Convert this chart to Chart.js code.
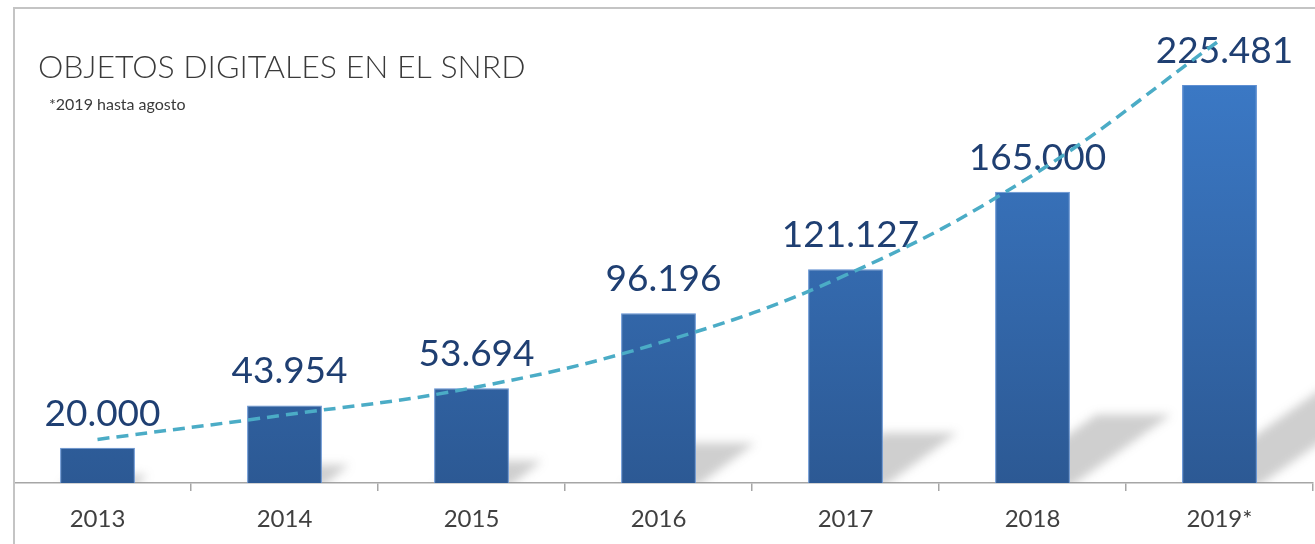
<!DOCTYPE html>
<html>
<head>
<meta charset="utf-8">
<script src="https://cdn.jsdelivr.net/npm/chart.js@4/dist/chart.umd.min.js"></script>
<style>
  html, body { margin: 0; padding: 0; background: #ffffff; }
  #wrap { width: 1315px; height: 544px; position: relative; }
  canvas { display: block; }
</style>
</head>
<body>
<div id="wrap"><canvas id="c" width="1315" height="544"></canvas></div>
<script>
const categories = ['2013', '2014', '2015', '2016', '2017', '2018', '2019*'];
const objetos = [20000, 43954, 53694, 96196, 121127, 165000, 225481];
const trend = [24700, 38500, 53800, 79200, 117700, 174300, 250700];
const valueLabels = ['20.000', '43.954', '53.694', '96.196', '121.127', '165.000', '225.481'];
const titleText = 'OBJETOS DIGITALES EN EL SNRD';
const noteText = '*2019 hasta agosto';

const BAR_INDEX = 1;

const decor = {
  id: 'decor',
  beforeDatasetsDraw(chart) {
    const ctx = chart.ctx;
    const meta = chart.getDatasetMeta(BAR_INDEX);
    const base = chart.scales.y.getPixelForValue(0);
    // soft projected shadows behind the bars
    ctx.save();
    ctx.beginPath();
    ctx.rect(0, 0, chart.width, base);
    ctx.clip();
    const OFF = 3000;
    ctx.shadowColor = 'rgba(140,140,140,0.42)';
    ctx.shadowBlur = 10;
    ctx.shadowOffsetX = OFF;
    ctx.shadowOffsetY = 0;
    ctx.fillStyle = '#000';
    meta.data.forEach(bar => {
      const h = base - bar.y;
      const sh = h * 0.235;
      const dx = sh * 1.48;
      const l = bar.x - bar.width / 2, r = bar.x + bar.width / 2;
      ctx.beginPath();
      ctx.moveTo(l - OFF, base + 4);
      ctx.lineTo(r - OFF, base + 4);
      ctx.lineTo(r + dx - OFF, base - sh);
      ctx.lineTo(l + dx - OFF, base - sh);
      ctx.closePath();
      ctx.fill();
    });
    ctx.restore();
    // value labels
    ctx.save();
    ctx.font = '37px Lato';
    ctx.fillStyle = '#1f3f72';
    ctx.textAlign = 'center';
    ctx.textBaseline = 'middle';
    meta.data.forEach((bar, i) => {
      ctx.fillText(valueLabels[i], bar.x + 5, bar.y - 34);
    });
    ctx.restore();
  },
  afterDraw(chart) {
    const ctx = chart.ctx;
    ctx.save();
    ctx.fillStyle = '#ffffff';
    ctx.fillRect(0, 0, 13, chart.height);
    ctx.fillRect(0, 0, chart.width, 7);
    ctx.strokeStyle = '#c4c4c4';
    ctx.lineWidth = 2;
    ctx.beginPath();
    ctx.moveTo(14, chart.height);
    ctx.lineTo(14, 8);
    ctx.lineTo(chart.width, 8);
    ctx.stroke();
    ctx.fillStyle = '#3a3a3a';
    ctx.textBaseline = 'alphabetic';
    ctx.textAlign = 'left';
    ctx.font = '300 32px Lato';
    ctx.fillText(titleText, 38, 78);
    ctx.font = '16px Lato';
    ctx.fillText(noteText, 49, 110);
    ctx.restore();
  }
};

const ctx = document.getElementById('c').getContext('2d');
new Chart(ctx, {
  data: {
    labels: categories,
    datasets: [
      {
        type: 'line',
        data: trend,
        borderColor: '#4bacc6',
        borderWidth: 3.5,
        borderDash: [12, 7],
        pointRadius: 0,
        tension: 0.4,
        fill: false,
        clip: false,
        order: 0
      },
      {
        type: 'bar',
        data: objetos,
        backgroundColor: (c) => {
          const a = c.chart.chartArea;
          if (!a) return '#3a75c0';
          const el = c.element;
          const top = el && el.y ? el.y : a.top;
          const g = c.chart.ctx.createLinearGradient(0, top, 0, a.bottom);
          g.addColorStop(0, '#3d7dcc');
          g.addColorStop(1, '#2c5994');
          return g;
        },
        borderColor: '#5f8fd2',
        borderWidth: 1,
        barPercentage: 0.4,
        categoryPercentage: 1,
        order: 1
      }
    ]
  },
  options: {
    responsive: false,
    animation: false,
    events: [],
    layout: { padding: { left: 4, right: 2, top: 24, bottom: 0 } },
    plugins: { legend: { display: false }, tooltip: { enabled: false }, title: { display: false } },
    scales: {
      x: {
        offset: true,
        afterFit(scale) { scale.height = 61; },
        grid: {
          offset: true,
          drawOnChartArea: false,
          drawTicks: true,
          tickLength: 8,
          color: '#a6a6a6',
          lineWidth: 1.5
        },
        border: { display: true, color: '#a6a6a6', width: 1.5 },
        ticks: { color: '#404040', font: { family: 'Lato', size: 24 }, padding: 14, maxRotation: 0 }
      },
      y: {
        display: false,
        min: 0,
        max: 260000
      }
    }
  },
  plugins: [decor]
});
</script>
</body>
</html>
